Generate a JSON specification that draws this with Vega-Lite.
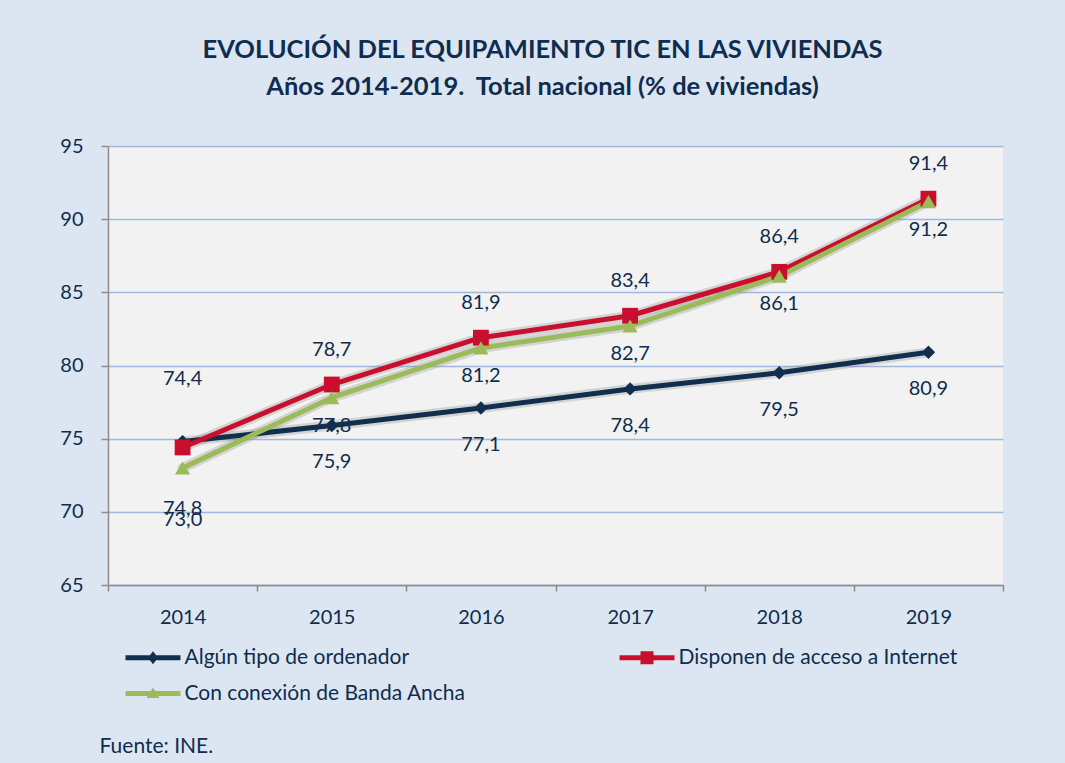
{
  "$schema": "https://vega.github.io/schema/vega-lite/v6.json",
  "autosize": "none",
  "width": 895,
  "height": 439,
  "padding": {"left": 108, "top": 146, "right": 62, "bottom": 178},
  "background": "#dce6f2",
  "title": {
    "text": ["EVOLUCIÓN DEL EQUIPAMIENTO TIC EN LAS VIVIENDAS", "Años 2014-2019.\u00a0 Total nacional (% de viviendas)"],
    "font": "Lato",
    "fontSize": 25.5,
    "fontWeight": "bold",
    "color": "#0f2d4e",
    "lineHeight": 37,
    "anchor": "middle",
    "dx": -13,
    "offset": 36
  },
  "data": {
    "values": [
      {"anio": 2014, "serie": "Algún tipo de ordenador", "valor": 74.8},
      {"anio": 2015, "serie": "Algún tipo de ordenador", "valor": 75.9},
      {"anio": 2016, "serie": "Algún tipo de ordenador", "valor": 77.1},
      {"anio": 2017, "serie": "Algún tipo de ordenador", "valor": 78.4},
      {"anio": 2018, "serie": "Algún tipo de ordenador", "valor": 79.5},
      {"anio": 2019, "serie": "Algún tipo de ordenador", "valor": 80.9},
      {"anio": 2014, "serie": "Disponen de acceso a Internet", "valor": 74.4},
      {"anio": 2015, "serie": "Disponen de acceso a Internet", "valor": 78.7},
      {"anio": 2016, "serie": "Disponen de acceso a Internet", "valor": 81.9},
      {"anio": 2017, "serie": "Disponen de acceso a Internet", "valor": 83.4},
      {"anio": 2018, "serie": "Disponen de acceso a Internet", "valor": 86.4},
      {"anio": 2019, "serie": "Disponen de acceso a Internet", "valor": 91.4},
      {"anio": 2014, "serie": "Con conexión de Banda Ancha", "valor": 73.0},
      {"anio": 2015, "serie": "Con conexión de Banda Ancha", "valor": 77.8},
      {"anio": 2016, "serie": "Con conexión de Banda Ancha", "valor": 81.2},
      {"anio": 2017, "serie": "Con conexión de Banda Ancha", "valor": 82.7},
      {"anio": 2018, "serie": "Con conexión de Banda Ancha", "valor": 86.1},
      {"anio": 2019, "serie": "Con conexión de Banda Ancha", "valor": 91.2}
    ]
  },
  "encoding": {
    "x": {
      "field": "anio",
      "type": "ordinal",
      "scale": {"type": "band", "paddingInner": 0, "paddingOuter": 0},
      "axis": {
        "title": "Fuente: INE.",
        "titleX": -9,
        "titleY": 167,
        "titleAlign": "left",
        "titleBaseline": "alphabetic",
        "titleFont": "Lato",
        "titleFontSize": 21,
        "titleFontWeight": "normal",
        "titleColor": "#0f2d4e",
        "labelAngle": 0,
        "tickBand": "extent",
        "tickSize": 6,
        "tickColor": "#8c8c8c",
        "tickWidth": 1.5,
        "domainColor": "#8c8c8c",
        "domainWidth": 1.5,
        "labelFont": "Lato",
        "labelFontSize": 20,
        "labelColor": "#0f2d4e",
        "labelPadding": 16,
        "grid": false
      }
    },
    "y": {
      "field": "valor",
      "type": "quantitative",
      "scale": {"domain": [65, 95], "nice": false, "zero": false},
      "axis": {
        "title": null,
        "values": [65, 70, 75, 80, 85, 90, 95],
        "tickSize": 7,
        "tickColor": "#8c8c8c",
        "tickWidth": 1.5,
        "domainColor": "#8c8c8c",
        "domainWidth": 1.5,
        "labelFont": "Lato",
        "labelFontSize": 20,
        "labelColor": "#0f2d4e",
        "labelPadding": 18,
        "grid": true,
        "gridColor": "#9fb8dc",
        "gridWidth": 1.5
      }
    }
  },
  "layer": [
    {
      "mark": {"type": "line", "strokeWidth": 10, "color": "#8a8a8a", "opacity": 0.3, "strokeCap": "round", "strokeJoin": "round"},
      "encoding": {
        "detail": {"field": "serie"}
      }
    },
    {
      "mark": {"type": "line", "strokeWidth": 5, "strokeCap": "round", "strokeJoin": "round"},
      "encoding": {
        "color": {
          "field": "serie",
          "type": "nominal",
          "scale": {
            "domain": ["Algún tipo de ordenador", "Disponen de acceso a Internet", "Con conexión de Banda Ancha"],
            "range": ["#102f4f", "#c8102e", "#9bbb59"]
          },
          "legend": {
            "title": null,
            "orient": "none",
            "legendX": 34.5,
            "legendY": 501,
            "direction": "horizontal",
            "columns": 2,
            "columnPadding": 153,
            "rowPadding": 14,
            "padding": 0,
            "symbolSize": 400,
            "labelOffset": 21,
            "labelLimit": 500,
            "labelFont": "Lato",
            "labelFontSize": 21,
            "labelColor": "#0f2d4e",
            "encode": {
              "symbols": {
                "update": {
                  "shape": {"signal": "datum.value === 'Algún tipo de ordenador' ? 'M-2.75,-0.25H2.75V0.25H-2.75Z M0,-0.65L0.5,0L0,0.65L-0.5,0Z' : datum.value === 'Disponen de acceso a Internet' ? 'M-2.75,-0.25H2.75V0.25H-2.75Z M-0.65,-0.65H0.65V0.65H-0.65Z' : 'M-2.75,-0.25H2.75V0.25H-2.75Z M0,-0.6L0.65,0.45H-0.65Z'"},
                  "fill": {"signal": "scale('color', datum.value)"},
                  "fillOpacity": {"value": 1},
                  "stroke": {"value": "transparent"},
                  "strokeWidth": {"value": 0},
                  "opacity": {"value": 1}
                }
              }
            }
          }
        }
      }
    },
    {
      "transform": [{"filter": "datum.serie === 'Algún tipo de ordenador'"}],
      "mark": {"type": "point", "shape": "diamond", "size": 180, "filled": true, "opacity": 1, "color": "#102f4f"}
    },
    {
      "transform": [{"filter": "datum.serie === 'Disponen de acceso a Internet'"}],
      "mark": {"type": "point", "shape": "square", "size": 250, "filled": true, "opacity": 1, "color": "#c8102e"}
    },
    {
      "transform": [{"filter": "datum.serie === 'Con conexión de Banda Ancha'"}],
      "mark": {"type": "point", "shape": "triangle-up", "size": 230, "filled": true, "opacity": 1, "color": "#9bbb59"}
    },
    {
      "transform": [{"filter": "datum.serie === 'Algún tipo de ordenador' && datum.anio !== 2014"}],
      "mark": {"type": "text", "font": "Lato", "fontSize": 20, "color": "#0f2d4e", "baseline": "middle", "dy": 37},
      "encoding": {"text": {"field": "valor", "type": "quantitative", "format": ".1f"}}
    },
    {
      "transform": [{"filter": "datum.serie === 'Disponen de acceso a Internet' && datum.anio !== 2014"}],
      "mark": {"type": "text", "font": "Lato", "fontSize": 20, "color": "#0f2d4e", "baseline": "middle", "dy": -35},
      "encoding": {"text": {"field": "valor", "type": "quantitative", "format": ".1f"}}
    },
    {
      "transform": [{"filter": "datum.serie === 'Con conexión de Banda Ancha' && datum.anio !== 2014"}],
      "mark": {"type": "text", "font": "Lato", "fontSize": 20, "color": "#0f2d4e", "baseline": "middle", "dy": 28},
      "encoding": {"text": {"field": "valor", "type": "quantitative", "format": ".1f"}}
    },
    {
      "transform": [{"filter": "datum.serie === 'Algún tipo de ordenador' && datum.anio === 2014"}],
      "mark": {"type": "text", "font": "Lato", "fontSize": 20, "color": "#0f2d4e", "baseline": "middle", "dy": 67},
      "encoding": {"text": {"field": "valor", "type": "quantitative", "format": ".1f"}}
    },
    {
      "transform": [{"filter": "datum.serie === 'Disponen de acceso a Internet' && datum.anio === 2014"}],
      "mark": {"type": "text", "font": "Lato", "fontSize": 20, "color": "#0f2d4e", "baseline": "middle", "dy": -68},
      "encoding": {"text": {"field": "valor", "type": "quantitative", "format": ".1f"}}
    },
    {
      "transform": [{"filter": "datum.serie === 'Con conexión de Banda Ancha' && datum.anio === 2014"}],
      "mark": {"type": "text", "font": "Lato", "fontSize": 20, "color": "#0f2d4e", "baseline": "middle", "dy": 52},
      "encoding": {"text": {"field": "valor", "type": "quantitative", "format": ".1f"}}
    }
  ],
  "config": {
    "locale": {"number": {"decimal": ",", "thousands": ".", "grouping": [3], "currency": ["", " €"]}},
    "view": {"fill": "#f2f2f2", "stroke": null}
  }
}
